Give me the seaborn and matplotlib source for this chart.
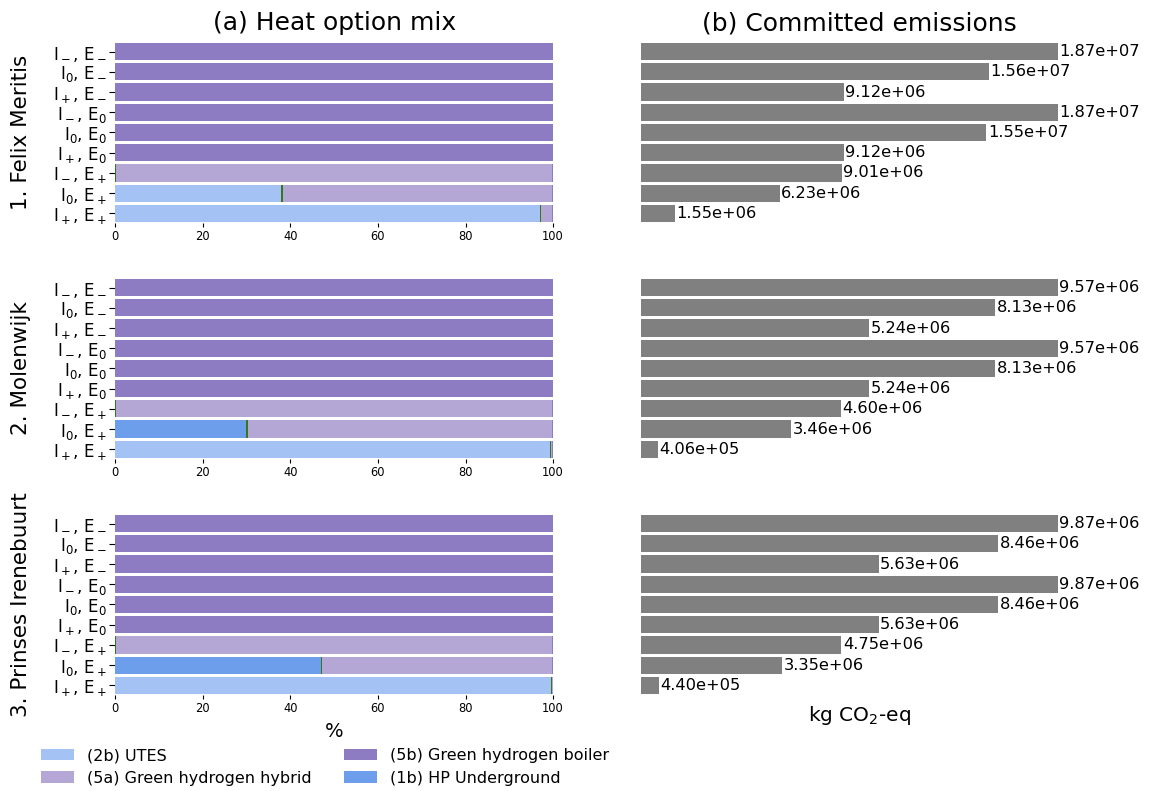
import matplotlib
matplotlib.use("Agg")
import matplotlib.pyplot as plt
import seaborn as sns
import numpy as np
from matplotlib.patches import Patch

sns.set_style("white")
plt.rcParams['font.family'] = ['DejaVu Sans']
plt.rcParams['text.color'] = 'black'
plt.rcParams['axes.labelcolor'] = 'black'
plt.rcParams['xtick.color'] = 'black'
plt.rcParams['ytick.color'] = 'black'

row_labels = [r"I$_-$, E$_-$", r"I$_0$, E$_-$", r"I$_+$, E$_-$",
              r"I$_-$, E$_0$", r"I$_0$, E$_0$", r"I$_+$, E$_0$",
              r"I$_-$, E$_+$", r"I$_0$, E$_+$", r"I$_+$, E$_+$"]
group_names = ["1. Felix Meritis", "2. Molenwijk", "3. Prinses Irenebuurt"]

option_names = ["(2b) UTES", "(1b) HP Underground", "other", "(5a) Green hydrogen hybrid",
                "(5b) Green hydrogen boiler"]
option_colors = ["#a4c2f4", "#6d9eeb", "#38761d", "#b4a7d6", "#8e7cc3"]

# heat option mix (%) per group, per option, per row
felix_utes   = [0, 0, 0, 0, 0, 0, 0, 38.0, 96.9]
felix_hp     = [0, 0, 0, 0, 0, 0, 0, 0, 0]
felix_other  = [0, 0, 0, 0, 0, 0, 0.25, 0.3, 0.3]
felix_hybrid = [0, 0, 0, 0, 0, 0, 99.45, 61.4, 2.5]
felix_boiler = [100, 100, 100, 100, 100, 100, 0.3, 0.3, 0.3]

molen_utes   = [0, 0, 0, 0, 0, 0, 0, 0, 99.2]
molen_hp     = [0, 0, 0, 0, 0, 0, 0, 30.0, 0]
molen_other  = [0, 0, 0, 0, 0, 0, 0.25, 0.3, 0.2]
molen_hybrid = [0, 0, 0, 0, 0, 0, 99.45, 69.4, 0.3]
molen_boiler = [100, 100, 100, 100, 100, 100, 0.3, 0.3, 0.3]

prins_utes   = [0, 0, 0, 0, 0, 0, 0, 0, 99.4]
prins_hp     = [0, 0, 0, 0, 0, 0, 0, 47.0, 0]
prins_other  = [0, 0, 0, 0, 0, 0, 0.25, 0.3, 0.4]
prins_hybrid = [0, 0, 0, 0, 0, 0, 99.45, 52.4, 0.1]
prins_boiler = [100, 100, 100, 100, 100, 100, 0.3, 0.3, 0.1]

mix = [
    [felix_utes, felix_hp, felix_other, felix_hybrid, felix_boiler],
    [molen_utes, molen_hp, molen_other, molen_hybrid, molen_boiler],
    [prins_utes, prins_hp, prins_other, prins_hybrid, prins_boiler],
]

# committed emissions (kg CO2-eq)
felix_emis = [1.87e7, 1.56e7, 9.12e6, 1.87e7, 1.55e7, 9.12e6, 9.01e6, 6.23e6, 1.55e6]
molen_emis = [9.57e6, 8.13e6, 5.24e6, 9.57e6, 8.13e6, 5.24e6, 4.60e6, 3.46e6, 4.06e5]
prins_emis = [9.87e6, 8.46e6, 5.63e6, 9.87e6, 8.46e6, 5.63e6, 4.75e6, 3.35e6, 4.40e5]
emissions = [felix_emis, molen_emis, prins_emis]

fig = plt.figure(figsize=(11.5, 7.91), dpi=100)

tops = [0.9475, 0.6492, 0.3508]
h = 0.230
for g in range(3):
    axl = fig.add_axes([0.1, tops[g] - h, 0.381, h])
    axr = fig.add_axes([0.557, tops[g] - h, 0.381, h])

    series = np.array(mix[g])
    cum = np.cumsum(series, axis=0)
    for k in range(len(option_names) - 1, -1, -1):
        sns.barplot(x=cum[k], y=row_labels, color=option_colors[k], saturation=1,
                    width=0.85, orient='h', ax=axl, linewidth=0)
    axl.set_xlim(0, 100)
    axl.set_ylim(len(row_labels) - 0.5, -0.5)
    for s in axl.spines.values():
        s.set_visible(False)
    axl.tick_params(axis='y', left=True, length=4, labelsize=12, pad=2)
    axl.tick_params(axis='x', bottom=True, length=3, labelsize=8.3, pad=2)
    axl.set_xticks([0, 20, 40, 60, 80, 100])
    axl.set_ylabel(group_names[g], fontsize=15.5, labelpad=16)
    axl.set_xlabel("")

    sns.barplot(x=emissions[g], y=row_labels, color="#808080", saturation=1,
                width=0.85, orient='h', ax=axr, linewidth=0)
    axr.bar_label(axr.containers[0], fmt='%.2e', padding=1, fontsize=11.7)
    axr.set_ylim(len(row_labels) - 0.5, -0.5)
    axr.set_xlim(0, max(emissions[g]) * 1.05)
    axr.set_xticks([])
    axr.set_yticks([])
    axr.set_ylabel("")
    axr.set_xlabel("")
    for s in axr.spines.values():
        s.set_visible(False)

    if g == 0:
        axl.set_title("(a) Heat option mix", fontsize=18, pad=8)
        axr.set_title("(b) Committed emissions", fontsize=18, pad=8)
    if g == 2:
        axl.set_xlabel("%", fontsize=14, labelpad=5)
        axr.set_xlabel(r"kg CO$_2$-eq", fontsize=14.5, labelpad=6)

legend_order = [0, 3, 4, 1]
handles = [Patch(facecolor=option_colors[i], edgecolor='none', label=option_names[i])
           for i in legend_order]
fig.legend(handles=handles, loc='upper left', bbox_to_anchor=(0.03, 0.062), ncol=2,
           frameon=False, fontsize=11.5, columnspacing=2.0, handlelength=2.1,
           handletextpad=0.8, borderaxespad=0, labelspacing=0.45)

fig.savefig("out.png", dpi=100)
